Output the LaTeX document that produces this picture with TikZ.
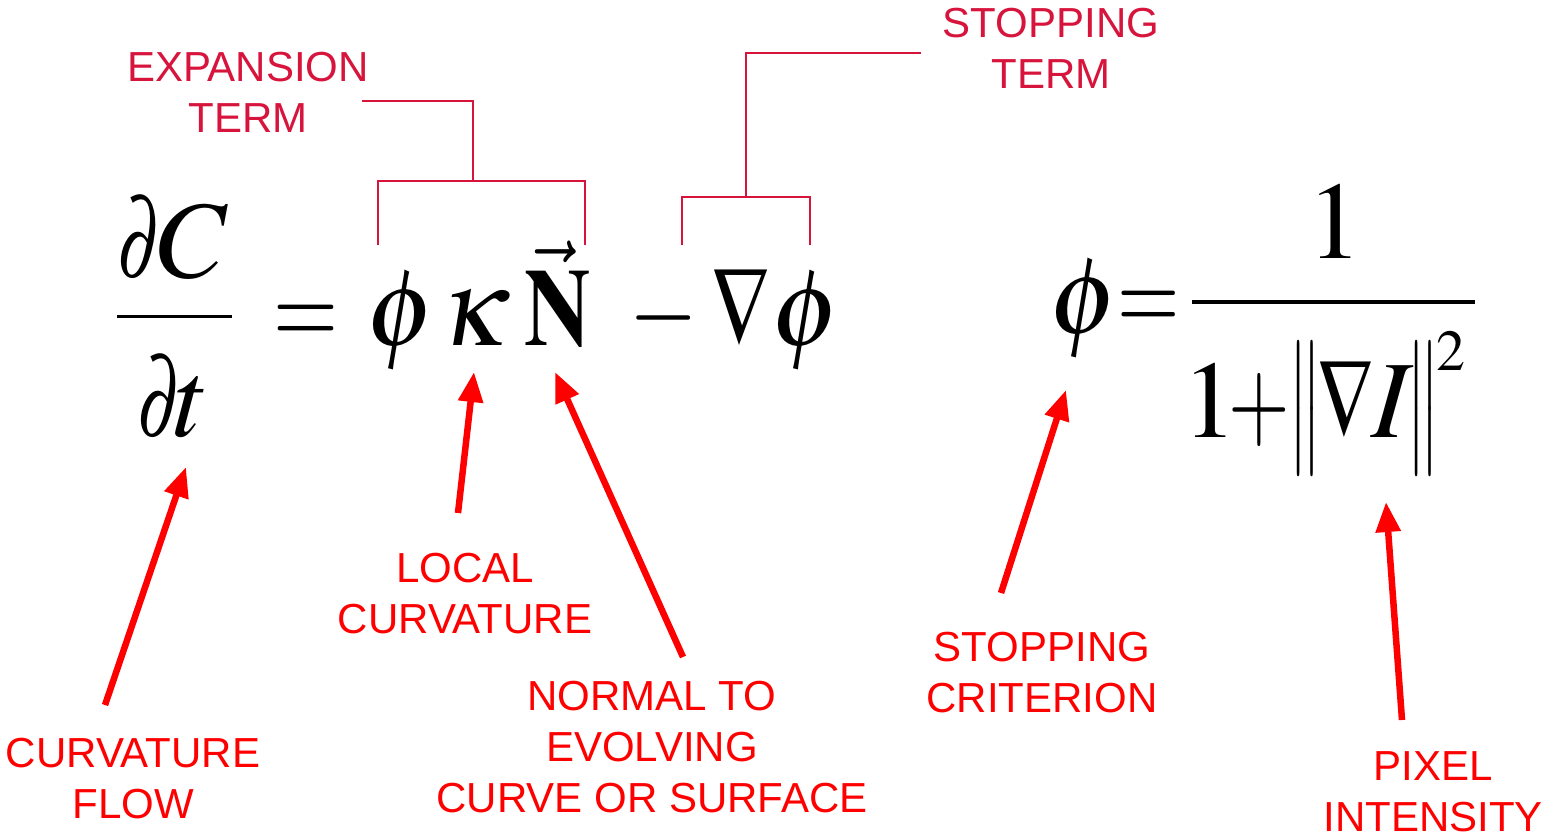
\documentclass[tikz,border=0pt]{standalone}
\usepackage{mathptmx}
\usepackage[no-math]{fontspec}
\newfontfamily\labfont{Liberation Sans}
\usetikzlibrary{arrows.meta}
\definecolor{crim}{RGB}{215,20,60}
\definecolor{labred}{RGB}{255,0,0}
\newcommand\mfont{\fontsize{110}{116}\selectfont}
\newcommand\hs[2]{\scalebox{#1}[1]{$#2$}}
\tikzset{
  lab/.style={font={\labfont\fontsize{42}{51}\selectfont}, text=labred, align=center, inner sep=0pt, anchor=north},
  toplab/.style={lab, text=crim},
  mth/.style={font=\mfont, inner sep=0pt, anchor=base},
  dlm/.style={font=\fontsize{110}{124}\selectfont, inner sep=0pt, anchor=center},
  arr/.style={draw=labred, line width=6.5pt, -{Triangle[length=30pt,width=24pt]}},
  brk/.style={draw=crim, line width=2pt},
  fbar/.style={draw=black, line width=3pt}
}
\begin{document}
\begin{tikzpicture}[x=1pt,y=-1pt]
\useasboundingbox (0,0) rectangle (1556,836);
% left equation
\node[mth] (d1) at (140,277) {\hs{0.65}{\partial}};
\node[mth] (C) at (193,277) {$C$};
\node[mth] (d2) at (160,436) {\hs{0.65}{\partial}};
\node[mth] (t) at (192,436) {$t$};
\coordinate (fbL) at (117,316);
\coordinate (fbR) at (232,316);
\draw[fbar] (fbL) -- (fbR);
\node[mth] (eq1) at (306,345) {\hs{0.76}{=}};
\node[mth] (phi1) at (401,345) {$\phi$};
\node[mth] (kap) at (475,345) {$\kappa$};
\node[mth] (N) at (558,345) {\hs{0.84}{\vec{\mathbf{N}}}};
\node[mth] (minus) at (664,345) {\hs{0.8}{-}};
\node[mth] (nab) at (741,345) {\hs{0.75}{\nabla}};
\node[mth] (phi2) at (806,345) {$\phi$};
% right equation
\node[mth] (phi3) at (1084,333) {$\phi$};
\node[mth] (eq2) at (1149,331) {\hs{0.73}{=}};
\node[mth] (one) at (1335,258) {$1$};
\coordinate (rbL) at (1192,302);
\coordinate (rbR) at (1475,302);
\draw[fbar, line width=4pt] (rbL) -- (rbR);
\node[mth] (one2) at (1210,437) {$1$};
\node[mth] (plus) at (1259,437) {\hs{0.72}{+}};
\node[dlm] (nl) at (1305.5,408) {\hs{0.55}{\big\|}};
\node[mth] (nab2) at (1346,437) {\hs{0.72}{\nabla}};
\node[mth] (I) at (1393,437) {$I$};
\node[dlm] (nr) at (1423.5,408) {\hs{0.55}{\big\|}};
\node[mth, font=\fontsize{58}{60}\selectfont] (sq) at (1451,370) {$2$};
% top labels
\node[toplab] (exp) at (248,52) {EXPANSION\\TERM};
\node[toplab] (stop) at (1051,8) {STOPPING\\TERM};
% brackets
\coordinate (e1) at (378,245);
\coordinate (e2) at (585,245);
\coordinate (e3) at (585,181);
\coordinate (e4) at (473,181);
\coordinate (e5) at (362,101);
\draw[brk] (e1) |- (e3) -- (e2);
\draw[brk] (e4) |- (e5);
\coordinate (s1) at (682,245);
\coordinate (s2) at (810,245);
\coordinate (s3) at (810,197);
\coordinate (s4) at (746,197);
\coordinate (s5) at (921,53);
\draw[brk] (s1) |- (s3) -- (s2);
\draw[brk] (s4) |- (s5);
% bottom labels
\node[lab] (cflow) at (133,738) {CURVATURE\\FLOW};
\node[lab] (lcurv) at (465,553) {LOCAL\\CURVATURE};
\node[lab] (norm) at (652,681) {NORMAL TO\\EVOLVING\\CURVE OR SURFACE};
\node[lab] (scrit) at (1042,632) {STOPPING\\CRITERION};
\node[lab] (pix) at (1433,751) {PIXEL\\INTENSITY};
% arrows
\coordinate (a1s) at (105,705); \coordinate (a1e) at (186,467);
\coordinate (a2s) at (458,513); \coordinate (a2e) at (474,372);
\coordinate (a3s) at (683,657); \coordinate (a3e) at (555,372);
\coordinate (a4s) at (1001,593); \coordinate (a4e) at (1066,390);
\coordinate (a5s) at (1402,720); \coordinate (a5e) at (1386,502);
\draw[arr] (a1s) -- (a1e);
\draw[arr] (a2s) -- (a2e);
\draw[arr] (a3s) -- (a3e);
\draw[arr] (a4s) -- (a4e);
\draw[arr] (a5s) -- (a5e);
\end{tikzpicture}
\end{document}
